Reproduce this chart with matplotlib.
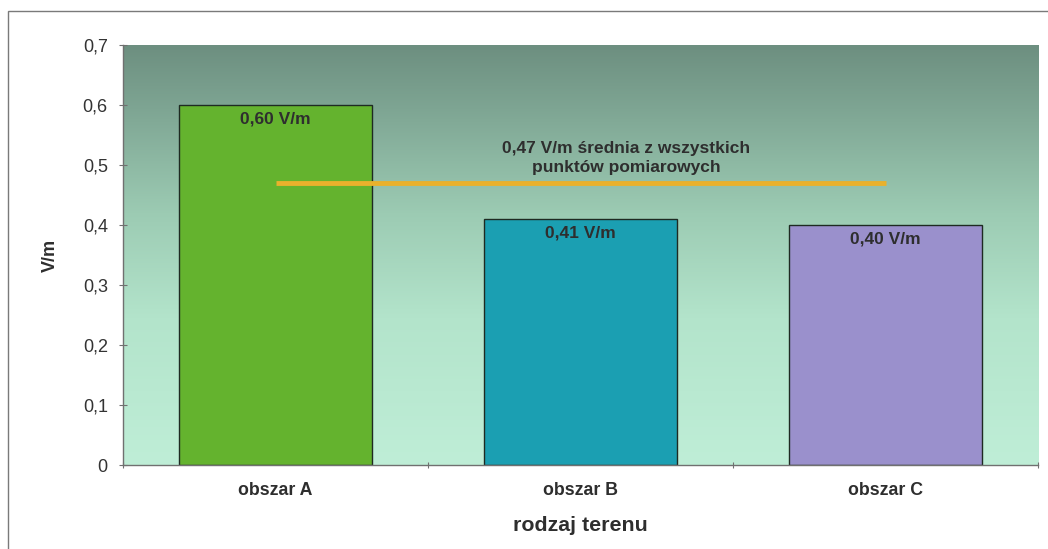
import numpy as np
import matplotlib.pyplot as plt
from matplotlib.colors import LinearSegmentedColormap
from matplotlib.patches import Rectangle

plt.rcParams['font.family'] = ['Liberation Sans', 'DejaVu Sans']

# dane
obszary = ['obszar A', 'obszar B', 'obszar C']
wartosci = [0.60, 0.41, 0.40]
etykiety = ['0,60 V/m', '0,41 V/m', '0,40 V/m']
srednia = 0.47
srednia_opis = '0,47 V/m średnia z wszystkich\npunktów pomiarowych'
y_ticks = [0, 0.1, 0.2, 0.3, 0.4, 0.5, 0.6, 0.7]
y_ticklabels = ['0', '0,1', '0,2', '0,3', '0,4', '0,5', '0,6', '0,7']
kolory = ['#64b32e', '#1b9fb2', '#9a90cc']

tekst = '#2e2e2e'

fig = plt.figure(figsize=(10.48, 5.49), dpi=100)
ax = fig.add_axes([0.1174, 0.153, 0.8731, 0.765])

# ramka wokol wykresu
fig.patches.append(Rectangle((8 / 1048, -0.1), 1.2, 1.1 - 11 / 549,
                             transform=fig.transFigure, fill=False,
                             edgecolor='#7a7a7a', lw=1.0))

x = np.arange(len(obszary))
ax.set_xlim(-0.5, 2.5)
ax.set_ylim(0, 0.7)

# tlo z gradientem
cmap = LinearSegmentedColormap.from_list(
    'tlo', [(0.0, '#bfeed7'), (0.35, '#b3e4cb'), (0.6, '#9ccbb3'),
            (0.85, '#7ea593'), (1.0, '#6d8f80')])
grad = np.linspace(0, 1, 256).reshape(-1, 1)
ax.imshow(grad, aspect='auto', cmap=cmap, origin='lower',
          extent=(-0.5, 2.5, 0, 0.7), zorder=0)

ax.bar(x, wartosci, width=0.63, color=kolory, edgecolor='#1e2a22',
       linewidth=1.0, zorder=2)

for xi, v, lab in zip(x, wartosci, etykiety):
    ax.annotate(lab, (xi, v), xytext=(0, -5), textcoords='offset points',
                ha='center', va='top', fontsize=12.5, fontweight='bold',
                color=tekst, zorder=4)

# linia sredniej
ax.plot([x[0], x[-1]], [srednia, srednia], color='#e9b12c', lw=3.5,
        solid_capstyle='butt', zorder=3)
ax.text(1.15, 0.512, srednia_opis, ha='center', va='center',
        fontsize=12.5, fontweight='bold', color=tekst, linespacing=1.35,
        zorder=4)

# osie
ax.set_yticks(y_ticks)
ax.set_yticklabels(y_ticklabels, fontsize=13, color='#333333')
ax.set_xticks([-0.5, 0.5, 1.5, 2.5])
ax.set_xticklabels([])
ax.set_xticks(x, minor=True)
ax.set_xticklabels(obszary, minor=True, fontsize=12.8, fontweight='bold',
                   color=tekst)
ax.tick_params(axis='x', which='minor', length=0, pad=12)
ax.tick_params(axis='x', which='major', length=5, color='#707070',
               direction='inout')
ax.tick_params(axis='y', length=6, color='#707070', direction='inout',
               pad=8)

for s in ['top', 'right']:
    ax.spines[s].set_visible(False)
for s in ['left', 'bottom']:
    ax.spines[s].set_color('#707070')
    ax.spines[s].set_linewidth(1.0)

ax.set_xlabel('rodzaj terenu', fontsize=15.4, fontweight='bold',
              color=tekst, labelpad=12.5)
ax.set_ylabel('V/m', fontsize=13, fontweight='bold', color=tekst,
              labelpad=17)

fig.savefig('out.png', dpi=100)
